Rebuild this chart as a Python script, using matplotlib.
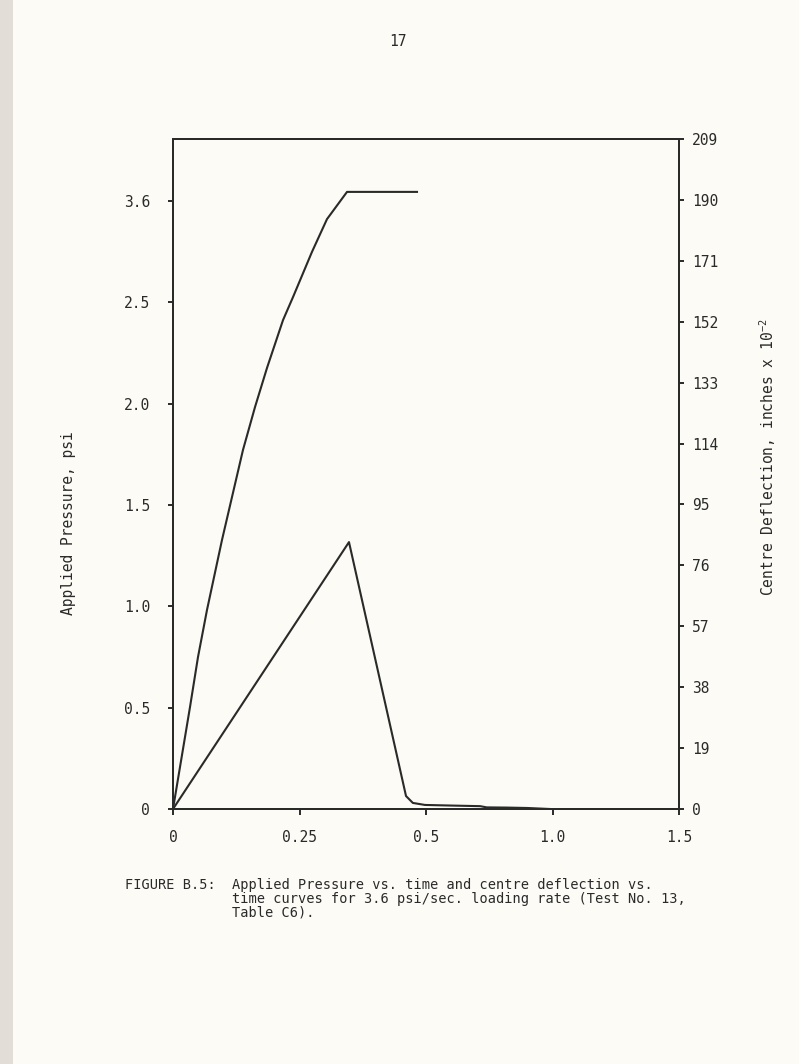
import matplotlib
matplotlib.use("Agg")
import matplotlib.pyplot as plt
from matplotlib.patches import Rectangle

# ---- data ----
x_ticks = [0, 0.25, 0.5, 0.75, 1.0]
x_tick_labels = ["0", "0.25", "0.5", "1.0", "1.5"]

p_ticks = [0, 0.5, 1.0, 1.5, 2.0, 2.5, 3.0]
p_tick_labels = ["0", "0.5", "1.0", "1.5", "2.0", "2.5", "3.6"]

d_ticks = [0, 19, 38, 57, 76, 95, 114, 133, 152, 171, 190, 209]
d_tick_labels = [str(v) for v in d_ticks]

# centre deflection curve (right axis)
defl_t = [0, 0.0336, 0.0494, 0.0672, 0.0968, 0.1383, 0.1621, 0.1858,
          0.2174, 0.2372, 0.2747, 0.3043, 0.3439, 0.4822]
defl_v = [0, 31.8, 47.4, 62.1, 83.9, 112.0, 125.4, 137.6,
          152.5, 159.7, 173.8, 184.0, 192.5, 192.5]

# applied pressure curve (left axis)
pres_t = [0, 0.3478, 0.4605, 0.474, 0.498, 0.55, 0.607, 0.62, 0.66, 0.70, 0.745]
pres_v = [0, 1.317, 0.064, 0.030, 0.020, 0.017, 0.014, 0.008, 0.007, 0.005, 0.0]

FONT = ["DejaVu Sans Mono"]
plt.rcParams["font.family"] = FONT
plt.rcParams["mathtext.default"] = "regular"
ink = "#2a2a2a"
bg = "#fcfbf6"

fig = plt.figure(figsize=(7.99, 10.64), dpi=100, facecolor=bg)
fig.patches.append(Rectangle((0, 0), 13 / 799, 1, transform=fig.transFigure,
                             facecolor="#e2ddd7", edgecolor="none", zorder=0))

ax = fig.add_axes([173 / 799, 1 - 809 / 1064, 506 / 799, 670 / 1064])
ax.set_facecolor(bg)
ax2 = ax.twinx()

ax.plot(pres_t, pres_v, color=ink, lw=1.5, solid_joinstyle="round")
ax2.plot(defl_t, defl_v, color=ink, lw=1.5, solid_joinstyle="round")

ax.set_xlim(0, 1.0)
ax.set_ylim(0, 3.306)
ax2.set_ylim(0, 209)

ax.set_xticks(x_ticks)
ax.set_xticklabels(x_tick_labels)
ax.set_yticks(p_ticks)
ax.set_yticklabels(p_tick_labels)
ax2.set_yticks(d_ticks)
ax2.set_yticklabels(d_tick_labels)

fs = 10.5
for a in (ax, ax2):
    for s in a.spines.values():
        s.set_linewidth(1.4)
        s.set_color(ink)
ax.tick_params(axis="x", direction="out", length=4, width=1.4, pad=11,
               labelsize=fs, colors=ink)
ax.tick_params(axis="y", direction="out", length=3.5, width=1.4, pad=13,
               labelsize=fs, colors=ink)
ax2.tick_params(axis="y", direction="out", length=3.5, width=1.4, pad=6,
                labelsize=fs, colors=ink)

fig.text(68 / 799, 1 - 523 / 1064, "Applied Pressure, psi", rotation=90,
         ha="center", va="center", fontsize=fs, color=ink)
fig.text(768 / 799, 1 - 457 / 1064, "Centre Deflection, inches x 10$^{-2}$",
         rotation=90, ha="center", va="center", fontsize=fs, color=ink)

fig.text(398 / 799, 1 - 42 / 1064, "17", ha="center", va="center",
         fontsize=fs, color=ink)

cfs = 9.8
cap_y = [885, 899, 913]
fig.text(125 / 799, 1 - cap_y[0] / 1064, "FIGURE B.5:", ha="left", va="center",
         fontsize=cfs, color=ink)
cap_lines = ["Applied Pressure vs. time and centre deflection vs.",
             "time curves for 3.6 psi/sec. loading rate (Test No. 13,",
             "Table C6)."]
for yy, line in zip(cap_y, cap_lines):
    fig.text(232 / 799, 1 - yy / 1064, line, ha="left", va="center",
             fontsize=cfs, color=ink)

fig.savefig("out.png", dpi=100, facecolor=bg)
